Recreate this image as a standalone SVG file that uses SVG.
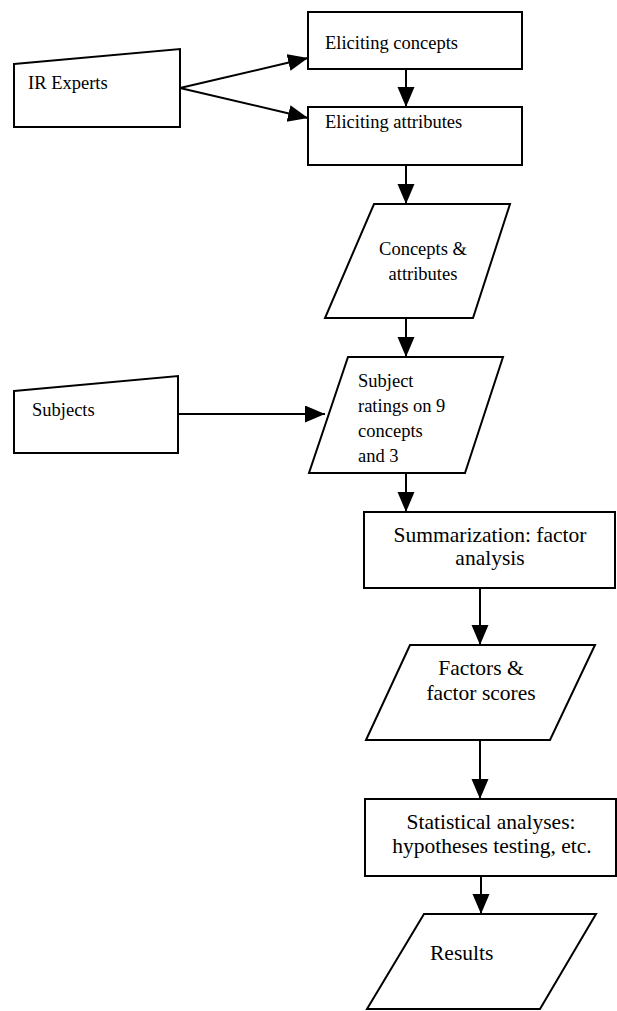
<svg xmlns="http://www.w3.org/2000/svg" width="617" height="1011" viewBox="0 0 617 1011">
<style>
.s{fill:#fff;stroke:#000;stroke-width:2}
.c{stroke:#000;stroke-width:2;fill:none}
.t{font-family:"Liberation Serif","Times New Roman",serif;fill:#000;font-size:18.5px}
.b{font-size:21.5px}
.m{text-anchor:middle}
</style>
<defs>
<marker id="ah" markerUnits="userSpaceOnUse" markerWidth="22" markerHeight="18" refX="20" refY="8.5" orient="auto">
<path d="M0,0 L20,8.5 L0,17 z" fill="#000"/>
</marker>
</defs>
<rect width="617" height="1011" fill="#fff"/>
<g id="connectors">
<line class="c" x1="180" y1="88" x2="308" y2="58" marker-end="url(#ah)"/>
<line class="c" x1="180" y1="88" x2="308" y2="118" marker-end="url(#ah)"/>
<line class="c" x1="406" y1="69" x2="406" y2="107" marker-end="url(#ah)"/>
<line class="c" x1="406" y1="165" x2="406" y2="204" marker-end="url(#ah)"/>
<line class="c" x1="406" y1="318" x2="406" y2="357" marker-end="url(#ah)"/>
<line class="c" x1="178" y1="414" x2="325" y2="414" marker-end="url(#ah)"/>
<line class="c" x1="406" y1="473" x2="406" y2="512" marker-end="url(#ah)"/>
<line class="c" x1="480" y1="588" x2="480" y2="645" marker-end="url(#ah)"/>
<line class="c" x1="480" y1="740" x2="480" y2="799" marker-end="url(#ah)"/>
<line class="c" x1="481" y1="876" x2="481" y2="914" marker-end="url(#ah)"/>
</g>
<g id="ir-experts">
<polygon class="s" points="14,64 180,49 180,127 14,127"/>
<text class="t" x="28" y="89">IR Experts</text>
</g>
<g id="eliciting-concepts">
<rect class="s" x="308" y="12" width="214" height="57"/>
<text class="t" x="325" y="49">Eliciting concepts</text>
</g>
<g id="eliciting-attributes">
<rect class="s" x="308" y="107" width="214" height="58"/>
<text class="t" x="325" y="128">Eliciting attributes</text>
</g>
<g id="concepts-attributes">
<polygon class="s" points="374,204 510,204 473,318 325,318"/>
<text class="t m" x="423" y="255">Concepts &amp;</text>
<text class="t m" x="423" y="280">attributes</text>
</g>
<g id="subjects">
<polygon class="s" points="14,391 178,376 178,453 14,453"/>
<text class="t" x="32" y="416">Subjects</text>
</g>
<g id="subject-ratings">
<polygon class="s" points="348,357 503,357 465,473 309,473"/>
<text class="t" x="358" y="387">Subject</text>
<text class="t" x="358" y="412">ratings on 9</text>
<text class="t" x="358" y="437">concepts</text>
<text class="t" x="358" y="462">and 3</text>
</g>
<g id="summarization">
<rect class="s" x="364" y="512" width="251" height="76"/>
<text class="t b m" x="490" y="542">Summarization: factor</text>
<text class="t b m" x="490" y="565">analysis</text>
</g>
<g id="factors">
<polygon class="s" points="410,645 595,645 550,740 366,740"/>
<text class="t b m" x="481" y="675">Factors &amp;</text>
<text class="t b m" x="481" y="700">factor scores</text>
</g>
<g id="statistical">
<rect class="s" x="365" y="799" width="251" height="77"/>
<text class="t b m" x="491" y="829">Statistical analyses:</text>
<text class="t b m" x="492" y="853">hypotheses testing, etc.</text>
</g>
<g id="results">
<polygon class="s" points="424,914 596,914 540,1009 367,1009"/>
<text class="t b" x="430" y="960">Results</text>
</g>
</svg>
